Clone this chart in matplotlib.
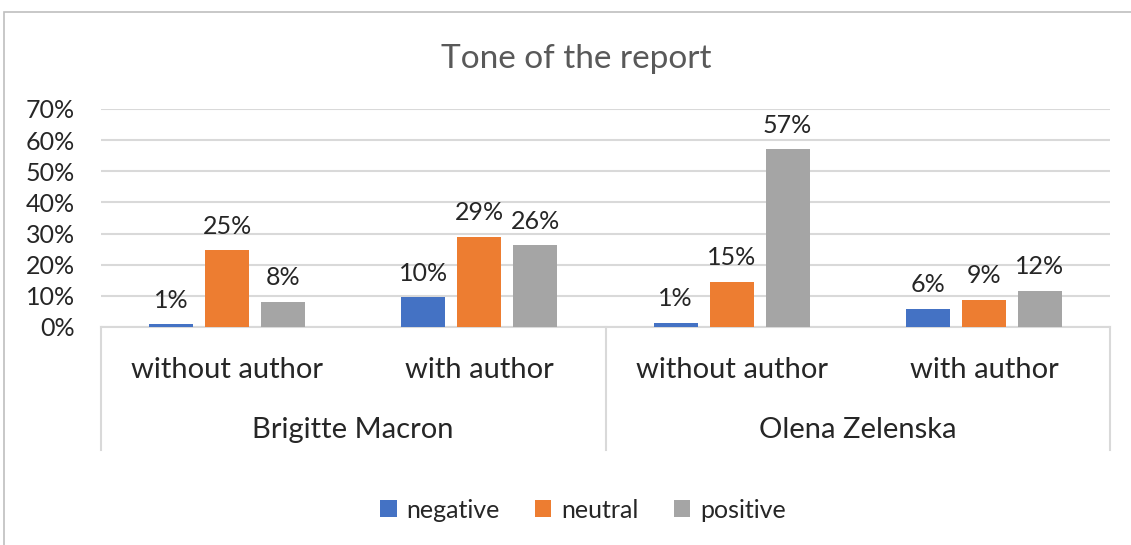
import matplotlib
matplotlib.use("Agg")
import matplotlib.pyplot as plt
from matplotlib.patches import Rectangle
import matplotlib.transforms as mtransforms
import numpy as np

# ---- data ----
persons = ["Brigitte Macron", "Olena Zelenska"]
subcats = ["without author", "with author", "without author", "with author"]
series_names = ["negative", "neutral", "positive"]
negative = [0.009, 0.096, 0.013, 0.058]
neutral = [0.247, 0.290, 0.146, 0.087]
positive = [0.081, 0.262, 0.571, 0.116]
yticks = [0.0, 0.1, 0.2, 0.3, 0.4, 0.5, 0.6, 0.7]
colors = ["#4472C4", "#ED7D31", "#A5A5A5"]

FONT = "Lato"
W, H = 1131, 545
fig = plt.figure(figsize=(W / 100, H / 100), dpi=100)

def px(x0, y0, x1, y1):
    return [x0 / W, 1 - y1 / H, (x1 - x0) / W, (y1 - y0) / H]

# outer chart frame
fig.patches.append(Rectangle((4 / W, -0.1), 1.2, 1 - 12 / H + 0.1, transform=fig.transFigure,
                             fill=False, edgecolor="#BFBFBF", linewidth=1.2))

ax = fig.add_axes(px(101, 109, 1110, 327))
x = np.arange(len(subcats))
bw = 0.175
step = 0.222
for i, (vals, c, name) in enumerate(zip([negative, neutral, positive], colors, series_names)):
    pos = x + (i - 1) * step
    ax.bar(pos, vals, width=bw, color=c, label=name, zorder=3)
    for xp, v in zip(pos, vals):
        ax.annotate(f"{round(v * 100):d}%", (xp, v), xytext=(0, 9), textcoords="offset points",
                    ha="center", va="bottom", fontsize=18, family=FONT, color="#262626")

ax.set_xlim(-0.5, 3.5)
ax.set_ylim(0, 0.7)
ax.set_yticks(yticks)
ax.set_yticklabels([f"{int(round(t * 100))}%" for t in yticks], family=FONT, fontsize=18, color="#262626")
ax.tick_params(axis="y", length=0, pad=19)
ax.set_xticks([])
for s in ["top", "right", "left"]:
    ax.spines[s].set_visible(False)
ax.spines["bottom"].set_color("#D9D9D9")
ax.spines["bottom"].set_linewidth(1.5)
ax.grid(axis="y", color="#D9D9D9", linewidth=1.5, zorder=0)
ax.set_axisbelow(True)

# multi-level category axis
trans = mtransforms.blended_transform_factory(ax.transData, ax.transAxes)
ybot = (327 - 450) / 218
for xv in [-0.5, 1.5, 3.5]:
    ax.plot([xv, xv], [0, ybot], transform=trans, color="#D9D9D9", linewidth=1.5, clip_on=False)
y1 = (327 - 370) / 218
y2 = (327 - 430) / 218
for xi, lab in zip(x, subcats):
    ax.text(xi, y1, lab, transform=trans, ha="center", va="center", fontsize=21,
            family=FONT, color="#262626")
for gi, name in enumerate(persons):
    ax.text(gi * 2 + 0.5, y2, name, transform=trans, ha="center", va="center", fontsize=21,
            family=FONT, color="#262626")

# title
fig.text(576 / W, 1 - 59 / H, "Tone of the report", ha="center", va="center", fontsize=24,
         family=FONT, color="#595959")

# legend
handles, labels = ax.get_legend_handles_labels()
fig.legend(handles, labels, loc="center", bbox_to_anchor=(583 / W, 1 - 510 / H), ncol=3,
           frameon=False, prop={"family": FONT, "size": 18}, handlelength=0.65, handleheight=0.65,
           handletextpad=0.4, columnspacing=1.4, labelcolor="#262626")

fig.savefig("out.png", dpi=100)
